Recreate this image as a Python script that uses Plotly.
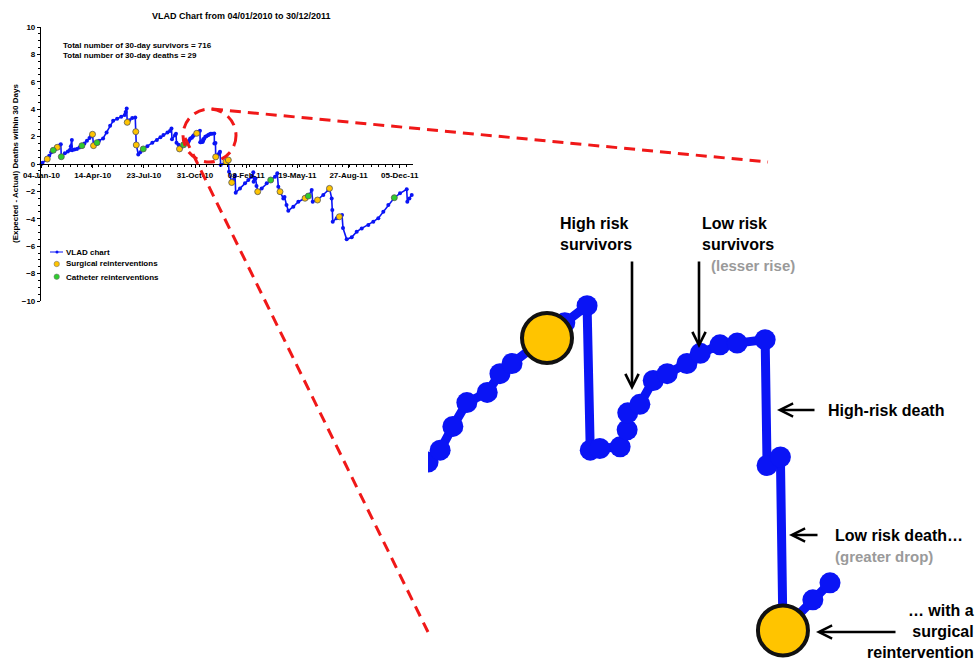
import pandas as pd
import plotly.graph_objects as go

START = pd.Timestamp("2010-01-04")

# ---- VLAD curve: days since 04-Jan-2010 and cumulative (expected - actual) deaths ----
vlad_day = [0, 2, 11.2, 15.1, 19.0, 23.0, 26.9, 30.8, 34.8, 37.7, 38.7, 45.6, 51.5, 55.4, 57.4, 59.3,
            59.8, 64.3, 69.2, 74.1, 79.0, 83.9, 88.8, 93.8, 96.7, 99.7, 101.6, 108.5, 112.4, 120.3,
            127.2, 134.1, 140.0, 147.8, 155.7, 162.6, 164.5, 166.5, 167.5, 171.4, 177.3, 183.2, 184.2,
            185.2, 189.1, 193.0, 198.9, 206.8, 216.6, 225.5, 232.4, 238.3, 246.1, 251.0, 254.0, 255.0,
            260.9, 262.8, 263.8, 267.7, 269.7, 273.6, 277.6,
            284.6, 286.5, 288.5, 290.7, 293.9, 295.9, 297.8, 303.3, 306.1, 309.6, 310.1, 311.6, 314.8,
            315.9, 316.0, 317.9, 320.0, 322.2, 325.3, 327.4, 330.5, 333.2, 337.6, 337.9, 340.0, 340.4,
            345.1, 347.8,
            348.8, 350.2, 360.6, 365.1, 366.4, 371.7, 374.8, 378.2, 379.5, 387.9, 397.7, 404.1, 410.8,
            413.9, 414.5, 418.2, 420.2, 422.5, 430.3, 440.1, 447.9, 456.3, 460.8, 462.8, 466.1, 472.6,
            474.9, 478.8, 482.3, 492.1, 501.9, 515.0, 521.4, 528.0, 530.0, 539.4, 550.7, 560.5, 562.8,
            567.1, 568.3, 569.1, 576.9, 582.0, 587.3, 589.2, 596.4, 606.2, 616.0, 625.8, 638.7, 648.4,
            658.2, 668.0, 677.7, 689.5, 700.6, 713.7, 714.9, 719.0, 723.5]
vlad_val = [0.0, 0.1, 0.36, 0.6, 0.85, 1.0, 1.1, 1.22, 1.35, 1.44, 0.53, 0.78, 0.92, 1.02, 1.3, 1.75,
            1.0, 1.05, 1.1, 1.2, 1.34, 1.5, 1.7, 1.9, 2.05, 2.17, 1.34, 1.56, 1.7, 1.87,
            2.3, 2.8, 3.15, 3.3, 3.45, 3.58, 3.8, 4.06, 3.04, 3.2, 3.35, 3.4, 2.36,
            1.39, 0.7, 0.85, 1.1, 1.3, 1.55, 1.75, 1.95, 2.12, 2.3, 2.41, 2.6, 1.8,
            2.1, 2.2, 1.55, 1.4, 1.1, 1.25, 1.4,
            1.51, 1.58, 1.72, 1.86, 1.92, 2.03, 2.09, 2.24, 2.33, 2.43, 1.58, 1.59, 1.60,
            1.70, 1.80, 1.85, 1.99, 2.03, 2.09, 2.15, 2.20, 2.21, 2.23, 1.49, 1.54, 0.52,
            0.70, 0.80,
            0.9, -0.07, 0.17, 0.29, -0.56, -1.35, -1.17, -0.85, -2.09, -1.78, -1.41, -1.17, -0.93,
            -0.61, -1.29, -1.05, -1.6, -2.02, -1.78, -1.41, -1.17, -0.93, -0.68, -1.66, -2.02, -2.51,
            -2.4, -2.99, -3.41, -3.12, -2.75, -2.50, -2.34, -1.9, -2.75, -2.63, -2.26, -1.9, -1.78,
            -2.51, -3.36, -4.21, -3.96, -3.85, -3.72, -4.67, -5.5, -5.35, -4.94, -4.7, -4.45, -4.21,
            -3.96, -3.48, -2.99, -2.46, -2.14, -1.85, -2.75, -2.51, -2.26]

# ---- reinterventions (on the curve) ----
surg_day = [11.2, 30.8, 99.7, 101.6, 167.5, 184.2, 185.2, 269.7, 303.3, 340.4, 360.6, 365.1, 371.7,
            422.5, 466.1, 515.0, 539.4, 562.8, 582.0]
surg_val = [0.36, 1.22, 2.17, 1.34, 3.04, 2.36, 1.39, 1.1, 2.24, 0.52, 0.17, 0.29, -1.35,
            -2.02, -2.02, -2.50, -2.63, -1.78, -3.85]
cath_day = [23.0, 38.7, 79.0, 108.5, 198.9, 277.6, 447.9, 521.4, 689.5]
cath_val = [1.0, 0.53, 1.34, 1.56, 1.1, 1.4, -1.17, -2.34, -2.46]

# ---- axis ticks ----
x_tick_dates = ["2010-01-04", "2010-04-14", "2010-07-23", "2010-10-31",
                "2011-02-08", "2011-05-19", "2011-08-27", "2011-12-05"]
y_ticks = [-10, -8, -6, -4, -2, 0, 2, 4, 6, 8, 10]

# inset window (zoomed section, days since start)
inset_first, inset_last = 284.0, 348.0


def to_date(days):
    return [START + pd.Timedelta(days=float(d)) for d in days]


W, H = 976, 663


def PX(x):
    return x / W


def PY(y):
    return 1 - y / H


BLUE = "#0a14f5"
GOLD = "#FFC400"
GREEN = "#2ECC2E"

fig = go.Figure()

# main chart
fig.add_trace(go.Scatter(x=to_date(vlad_day), y=vlad_val, mode="lines+markers",
                         line=dict(color=BLUE, width=1.6), marker=dict(size=4, color=BLUE),
                         xaxis="x", yaxis="y", showlegend=False, cliponaxis=False))
fig.add_trace(go.Scatter(x=to_date(surg_day), y=surg_val, mode="markers",
                         marker=dict(size=6, color=GOLD, line=dict(color="#555", width=0.8)),
                         xaxis="x", yaxis="y", showlegend=False, cliponaxis=False))
fig.add_trace(go.Scatter(x=to_date(cath_day), y=cath_val, mode="markers",
                         marker=dict(size=6, color=GREEN, line=dict(color="#555", width=0.8)),
                         xaxis="x", yaxis="y", showlegend=False, cliponaxis=False))

# inset (magnified section of the same data)
sel = [i for i, d in enumerate(vlad_day) if inset_first <= d <= inset_last]
fig.add_trace(go.Scatter(x=to_date([vlad_day[i] for i in sel]), y=[vlad_val[i] for i in sel],
                         mode="lines+markers", line=dict(color=BLUE, width=9),
                         marker=dict(size=21, color=BLUE),
                         xaxis="x2", yaxis="y2", showlegend=False))
ssel = [i for i, d in enumerate(surg_day) if inset_first <= d <= inset_last]
fig.add_trace(go.Scatter(x=to_date([surg_day[i] for i in ssel]), y=[surg_val[i] for i in ssel],
                         mode="markers",
                         marker=dict(size=50, color=GOLD, line=dict(color="#111", width=4)),
                         xaxis="x2", yaxis="y2", showlegend=False, cliponaxis=False))

# geometry
main_x = [PX(41), PX(413)]
main_y = [PY(301), PY(27)]
# inset mapping: anchor S1 at pixel (547,338), 6.36 px/day, 170 px/unit
a_day, a_px, ppd = 303.3, 547, 6.36
a_val, a_py, ppu = 2.24, 338, 170
inset_xpx = [428, 976]
inset_ypx = [280, 663]
x2_range = [START + pd.Timedelta(days=a_day + (p - a_px) / ppd) for p in inset_xpx]
y2_range = [a_val - (inset_ypx[1] - a_py) / ppu, a_val + (a_py - inset_ypx[0]) / ppu]

font_main = dict(family="Liberation Sans, Arial", size=8, color="black", weight="bold")

fig.update_layout(
    template="none",
    width=W, height=H, margin=dict(l=0, r=0, t=0, b=0, pad=0, autoexpand=False),
    paper_bgcolor="white", plot_bgcolor="rgba(0,0,0,0)", showlegend=False,
    xaxis=dict(domain=main_x, type="date", automargin=False,
               range=[START + pd.Timedelta(days=-1), START + pd.Timedelta(days=726)],
               anchor="free", position=(main_y[0] + main_y[1]) / 2,
               tickvals=x_tick_dates, tickformat="%d-%b-%y", tickfont=font_main,
               ticks="outside", ticklen=3, tickcolor="black", tickwidth=1,
               minor=dict(dtick=14 * 86400000, tick0="2010-01-04", ticks="outside", ticklen=2,
                          tickcolor="black", tickwidth=1, showgrid=False),
               showline=True, linecolor="black", linewidth=1.2, showgrid=False, zeroline=False),
    yaxis=dict(domain=main_y, range=[-10, 10], anchor="x", tickvals=y_ticks, tickfont=font_main,
               automargin=False,
               ticks="outside", ticklen=3, tickcolor="black", tickwidth=1,
               minor=dict(dtick=0.5, ticks="outside", ticklen=2, tickcolor="black", tickwidth=1,
                          showgrid=False),
               showline=True, linecolor="black", linewidth=1.2, showgrid=False, zeroline=False),
    xaxis2=dict(domain=[PX(inset_xpx[0]), PX(inset_xpx[1])], type="date", range=x2_range,
                anchor="y2", visible=False, automargin=False),
    yaxis2=dict(domain=[PY(inset_ypx[1]), PY(inset_ypx[0])], range=y2_range,
                anchor="x2", visible=False, automargin=False),
)

ann = []


def txt(x, y, s, size=8, xanchor="left", color="black", align="left", family="Liberation Sans, Arial",
        angle=0, yanchor="middle"):
    ann.append(dict(x=PX(x), y=PY(y), xref="paper", yref="paper", text=s, showarrow=False,
                    xanchor=xanchor, yanchor=yanchor, align=align, textangle=angle,
                    font=dict(family=family, size=size, color=color, weight="bold")))


def arrow(hx, hy, tx, ty):
    ann.append(dict(x=PX(hx), y=PY(hy), xref="paper", yref="paper", text="", showarrow=True,
                    ax=tx - hx, ay=ty - hy, axref="pixel", ayref="pixel",
                    arrowhead=5, arrowsize=1, arrowwidth=2.6, arrowcolor="black", standoff=0))


# main chart texts
txt(241, 16, "VLAD Chart from 04/01/2010 to 30/12/2011", size=9, xanchor="center")
txt(61, 46, "Total number of 30-day survivors = 716", size=8)
txt(61, 55, "Total number of 30-day deaths = 29", size=8)
txt(15, 164, "(Expected - Actual) Deaths within 30 Days", size=8, xanchor="center", angle=-90)
txt(64, 252, "VLAD chart", size=8)
txt(64, 264, "Surgical reinterventions", size=8)
txt(64, 277, "Catheter reinterventions", size=8)

# inset callouts
GRAY = "#9a9a9a"
txt(558, 234, "High risk<br>survivors", size=16)
txt(700, 234, "Low risk<br>survivors", size=16)
txt(709, 265, "(lesser rise)", size=15, color=GRAY)
txt(826, 410, "High-risk death", size=16)
txt(833, 535, "Low risk death…", size=16)
txt(833, 556, "(greater drop)", size=15, color=GRAY)
txt(976, 663, "… with a<br>surgical<br>reintervention", size=16, xanchor="right", align="right",
    yanchor="bottom")

arrow(632, 390, 632, 260)
arrow(699, 348, 699, 260)
arrow(777, 410, 816, 410)
arrow(789, 535, 819, 535)
arrow(816, 632, 897, 632)

fig.update_layout(annotations=ann)

# legend symbols and red dashed zoom guides
RED = "#F01818"
dash = "11px,7px"
shapes = [
    dict(type="line", xref="paper", yref="paper", x0=PX(50), x1=PX(63), y0=PY(252), y1=PY(252),
         line=dict(color=BLUE, width=1)),
    dict(type="circle", xref="paper", yref="paper", x0=PX(55.5), x1=PX(58.5), y0=PY(253.5), y1=PY(250.5),
         fillcolor=BLUE, line=dict(width=0)),
    dict(type="circle", xref="paper", yref="paper", x0=PX(54), x1=PX(59.4), y0=PY(266.7), y1=PY(261.3),
         fillcolor=GOLD, line=dict(color="#777", width=0.6)),
    dict(type="circle", xref="paper", yref="paper", x0=PX(54), x1=PX(59.4), y0=PY(279.4), y1=PY(274),
         fillcolor=GREEN, line=dict(color="#777", width=0.6)),
    dict(type="circle", xref="paper", yref="paper", x0=PX(183), x1=PX(236), y0=PY(162), y1=PY(109),
         line=dict(color=RED, width=3, dash=dash)),
    dict(type="line", xref="paper", yref="paper", x0=PX(212), x1=PX(768), y0=PY(109), y1=PY(162),
         line=dict(color=RED, width=3, dash=dash)),
    dict(type="line", xref="paper", yref="paper", x0=PX(185), x1=PX(428), y0=PY(138), y1=PY(632),
         line=dict(color=RED, width=3, dash=dash)),
]
fig.update_layout(shapes=shapes)

fig.write_html("out.html", config={"displayModeBar": False},
               post_script="document.body.style.margin='0px';")
